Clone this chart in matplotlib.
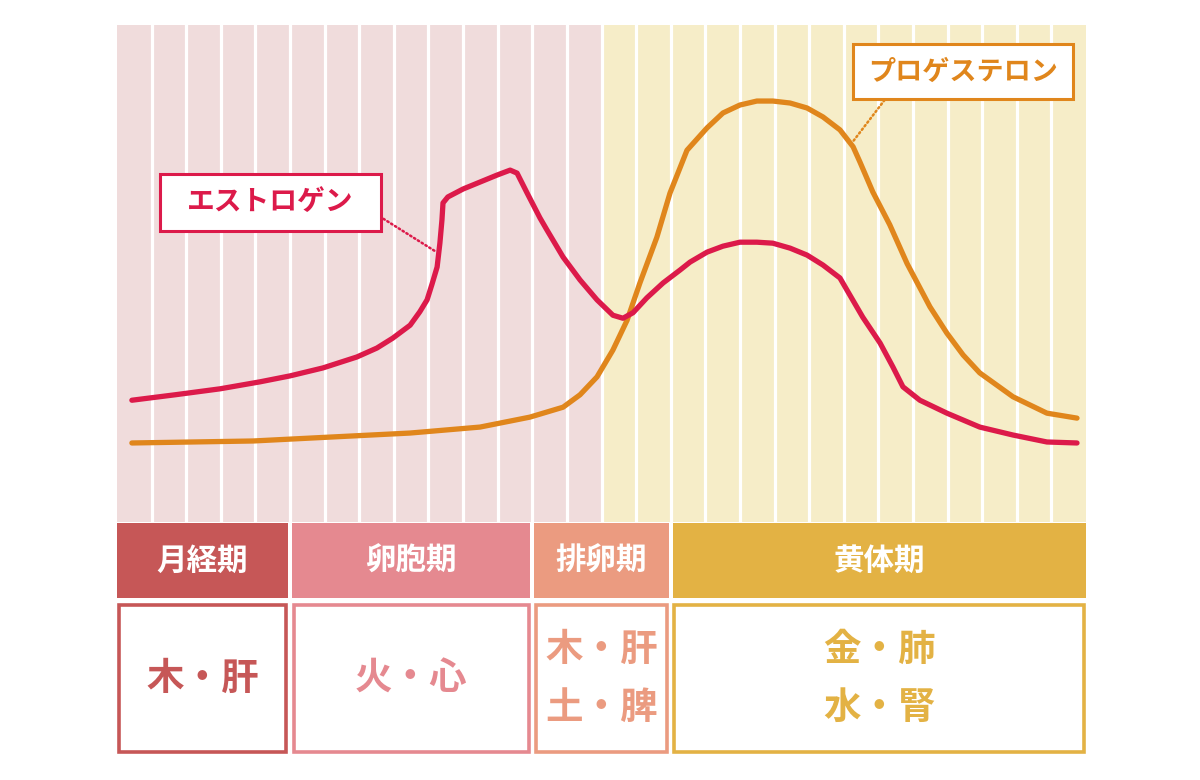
import numpy as np
import matplotlib.pyplot as plt
from matplotlib.patches import Rectangle

plt.rcParams['font.family'] = ['Noto Sans CJK JP', 'DejaVu Sans']

# cycle days (28 columns), background colour per half
n_days = 28
pink_bg = '#f0dcdc'
yellow_bg = '#f6edc8'

# hormone curves: day in cycle, relative level (0-100)
estrogen_day = [0.43, 1.68, 2.98, 4.13, 5.00, 5.95, 6.93, 7.51, 7.97, 8.47,
                8.75, 8.96, 9.10, 9.25, 9.33, 9.39, 9.42, 9.56, 10.00, 10.49,
                10.98, 11.36, 11.56, 11.85, 12.22, 12.42, 12.89, 13.38, 13.87,
                14.33, 14.62, 14.91, 15.31, 15.78, 16.27, 16.56, 17.05, 17.51,
                18.00, 18.49, 18.95, 19.45, 19.94, 20.40, 20.89, 21.09, 21.55,
                22.05, 22.42, 22.71, 23.20, 23.98, 24.93, 25.89, 26.87, 27.74]
estrogen_lvl = [24.5, 25.6, 26.8, 28.2, 29.4, 31.0, 33.2, 35.0, 37.0, 39.6,
                42.3, 44.7, 47.8, 51.3, 56.1, 60.8, 64.2, 65.4, 67.0, 68.4,
                69.8, 70.8, 70.2, 66.2, 61.2, 58.8, 53.3, 48.7, 44.7,
                41.6, 41.0, 42.1, 45.1, 48.1, 50.7, 52.3, 54.3, 55.5,
                56.3, 56.3, 56.1, 55.1, 53.7, 51.7, 49.1, 46.7, 41.2,
                36.0, 31.2, 27.2, 24.5, 21.9, 19.1, 17.5, 16.1, 15.9]

progesterone_day = [0.43, 3.93, 8.47, 10.49, 11.93, 12.89, 13.38, 13.87, 14.33,
                    14.74, 15.11, 15.60, 15.98, 16.47, 17.05, 17.51, 18.00, 18.49,
                    18.95, 19.45, 19.94, 20.40, 20.89, 21.27, 21.47, 21.84, 22.33,
                    22.83, 23.49, 23.98, 24.45, 24.93, 25.89, 26.87, 27.74]
progesterone_lvl = [15.9, 16.3, 17.9, 19.1, 21.1, 23.1, 25.6, 29.2, 34.6,
                    40.6, 48.1, 57.3, 66.2, 74.8, 79.3, 82.3, 83.9, 84.7,
                    84.7, 84.3, 83.3, 81.5, 78.9, 75.5, 72.4, 66.4, 59.8,
                    52.0, 43.3, 38.0, 33.6, 30.0, 25.2, 21.9, 20.9]

# phases: name, start day, end day, colour, organ text lines
phase_names = ['月経期', '卵胞期', '排卵期', '黄体期']
phase_start = [0, 5, 12, 16]
phase_end = [5, 12, 16, 28]
phase_colors = ['#c65757', '#e58990', '#eb9b80', '#e3b244']
phase_organs = [['木・肝'], ['火・心'], ['木・肝', '土・脾'], ['金・肺', '水・腎']]

red = '#dc1a4a'
orange = '#e0861c'

W, H = 1200, 780
fig = plt.figure(figsize=(12, 7.8), dpi=100)


def px_axes(x0, y0, x1, y1):
    # axes placed by pixel box (top-left origin)
    return fig.add_axes([x0 / W, 1 - y1 / H, (x1 - x0) / W, (y1 - y0) / H])


# ---- main chart ----
ax = px_axes(117, 25, 1086, 522)
ax.set_xlim(0, n_days)
ax.set_ylim(0, 100)
ax.axis('off')
ax.axvspan(0, 14, color=pink_bg, lw=0, zorder=0)
ax.axvspan(14, 28, color=yellow_bg, lw=0, zorder=0)
for d in range(1, n_days):
    ax.axvline(d, color='white', lw=2.3, zorder=1)

ax.plot(progesterone_day, progesterone_lvl, color=orange, lw=3.8,
        solid_capstyle='round', solid_joinstyle='round', zorder=3)
ax.plot(estrogen_day, estrogen_lvl, color=red, lw=3.8,
        solid_capstyle='round', solid_joinstyle='round', zorder=4)

# labels with dotted leaders
ax.add_patch(Rectangle((1.24, 58.6), 6.39, 11.4, facecolor='white',
                       edgecolor=red, lw=2.2, zorder=5))
ax.text(4.43, 64.3, 'エストロゲン', color=red, fontsize=20, fontweight='bold',
        ha='center', va='center', zorder=6)
ax.plot([7.7, 9.19], [61.0, 54.5], color=red, lw=1.8, ls=(0, (0.6, 1.2)),
        dash_capstyle='round', zorder=5)

ax.add_patch(Rectangle((21.26, 85.1), 6.35, 11.1, facecolor='white',
                       edgecolor=orange, lw=2.2, zorder=5))
ax.text(24.44, 90.6, 'プロゲステロン', color=orange, fontsize=19.5, fontweight='bold',
        ha='center', va='center', zorder=6)
ax.plot([22.18, 21.26], [84.9, 76.5], color=orange, lw=1.8, ls=(0, (0.6, 1.2)),
        dash_capstyle='round', zorder=5)

# ---- phase header row and organ boxes ----
gap = 0.11
hax = px_axes(117, 523, 1086, 598)
hax.set_xlim(0, n_days)
hax.set_ylim(0, 1)
hax.axis('off')
bax = px_axes(117, 603, 1086, 754)
bax.set_xlim(0, n_days)
bax.set_ylim(0, 1)
bax.axis('off')

for name, s, e, c, organs in zip(phase_names, phase_start, phase_end,
                                 phase_colors, phase_organs):
    left = s if s == 0 else s + gap / 2
    right = e if e == n_days else e - gap / 2
    hax.bar((left + right) / 2, 1, width=right - left, color=c, lw=0)
    hax.text((left + right) / 2, 0.5, name, color='white', fontsize=22,
             fontweight='bold', ha='center', va='center')

    # outlined box; inset so the edge sits inside
    ix = 0.05
    iy = 0.012
    bax.add_patch(Rectangle((left + ix, iy), right - left - 2 * ix, 1 - 2 * iy,
                            facecolor='white', edgecolor=c, lw=2.6))
    if len(organs) == 1:
        ys = [0.5]
    else:
        ys = [0.69, 0.31]
    for txt, yy in zip(organs, ys):
        bax.text((left + right) / 2, yy, txt, color=c, fontsize=27,
                 fontweight='bold', ha='center', va='center')

fig.savefig('out.png', dpi=100)
